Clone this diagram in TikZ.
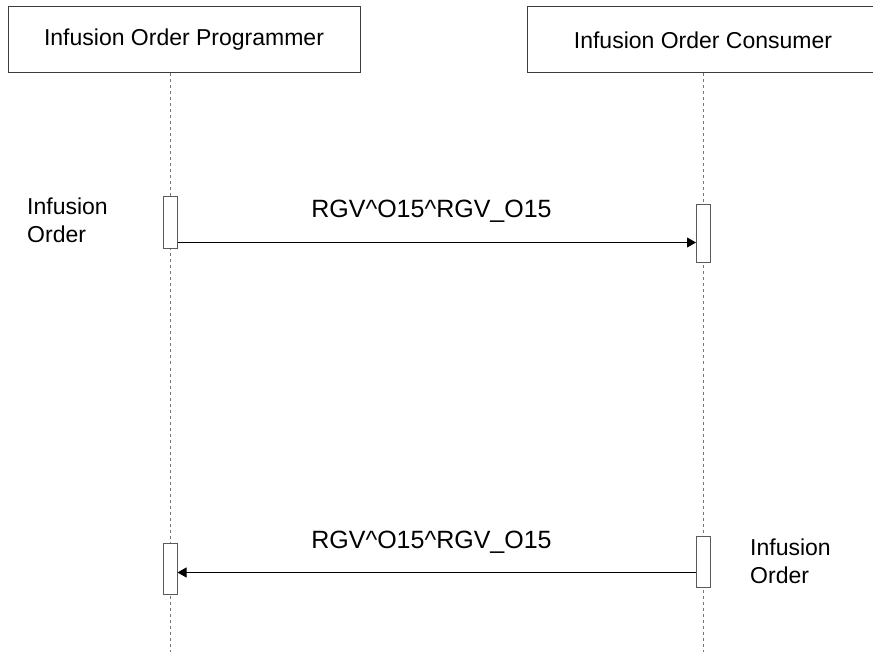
\documentclass[tikz,border=0pt]{standalone}
\usepackage{fontspec}
\setmainfont{Liberation Sans}
\usetikzlibrary{arrows.meta,positioning,calc}
\definecolor{boxline}{RGB}{60,60,60}
\definecolor{lifeline}{RGB}{120,120,120}
\definecolor{barline}{RGB}{90,90,90}
\tikzset{
  actor/.style   = {draw=boxline, line width=1pt, minimum width=352pt,
                    minimum height=66pt, inner sep=0pt,
                    font=\fontsize{23}{28}\selectfont},
  life/.style    = {draw=lifeline, line width=0.9pt, dash pattern=on 3pt off 3pt},
  actbar/.style  = {draw=barline, fill=white, line width=1pt,
                    minimum width=14pt, inner sep=0pt},
  msg/.style     = {-{Triangle[length=9pt,width=10pt]}, line width=1pt, draw=black},
  msglabel/.style = {font=\fontsize{25}{30}\selectfont, inner sep=0pt, anchor=base},
  note/.style    = {font=\fontsize{23}{28}\selectfont, align=left, inner sep=0pt,
                    anchor=north west}
}
\begin{document}
\begin{tikzpicture}[x=1pt,y=-1pt]
\useasboundingbox (0,0) rectangle (873,652);

% --- actors ---
\node[actor] (prog) at (184,40) {Infusion Order Programmer};
\node[actor] (cons) at (703,40) {Infusion Order Consumer};

% --- lifelines ---
\coordinate (bottom) at (0,652);
\coordinate (progl) at ([xshift=-14pt]prog.south);
\coordinate (consl) at (cons.south);
\draw[life] (progl) -- (progl |- bottom);
\draw[life] (consl) -- (consl |- bottom);

% --- activation bars ---
\node[actbar, minimum height=52pt] (pa1) at (170,223) {};
\node[actbar, minimum height=58pt] (ca1) at (703.5,234) {};
\node[actbar, minimum height=51pt] (pa2) at (170,568.5) {};
\node[actbar, minimum height=51pt] (ca2) at (703.5,561.5) {};

% --- messages ---
\coordinate (m1) at ([yshift=7pt]pa1.south east);
\draw[msg] (m1) -- (m1 -| ca1.west);
\node[msglabel] (lab1) at (431.5,218) {RGV\^{}O15\^{}RGV\_O15};

\coordinate (m2) at ([yshift=15pt]ca2.south west);
\draw[msg] (m2) -- (m2 -| pa2.east);
\node[msglabel] (lab2) at (431.5,548) {RGV\^{}O15\^{}RGV\_O15};

% --- notes ---
\node[note] (n1) at (27,198) {Infusion\\Order};
\node[note] (n2) at (750,539) {Infusion\\Order};

\end{tikzpicture}
\end{document}
